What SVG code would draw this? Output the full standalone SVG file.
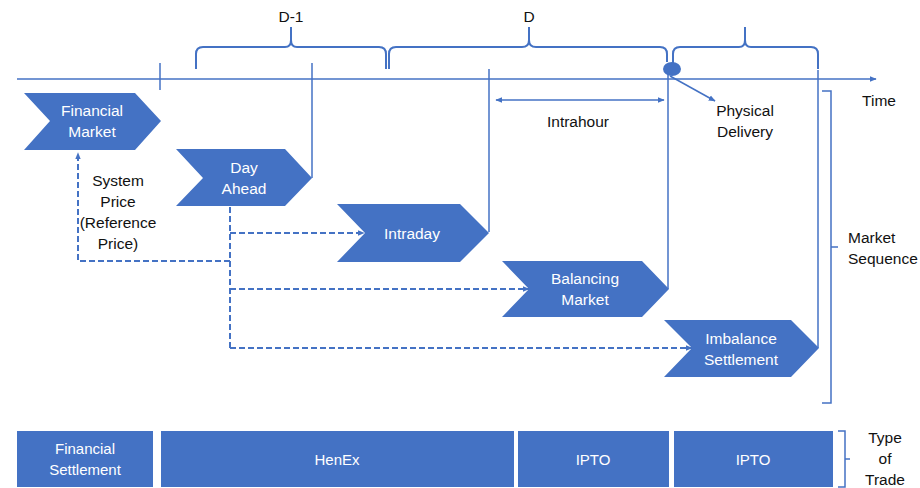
<svg xmlns="http://www.w3.org/2000/svg" width="920" height="488" viewBox="0 0 920 488">
<defs>
<marker id="ah" viewBox="0 0 10 10" refX="9" refY="5" markerWidth="7" markerHeight="7" orient="auto-start-reverse" markerUnits="userSpaceOnUse"><path d="M0,1 L10,5 L0,9 Z" fill="#4472C4"/></marker>
<style>
.ln{stroke:#4472C4;stroke-width:1.5;fill:none}
.ds{stroke:#4472C4;stroke-width:2;fill:none;stroke-dasharray:6,3}
.sh{fill:#4472C4}
.wt{font-family:"Liberation Sans",Arial,sans-serif;font-size:15.5px;fill:#ffffff;text-anchor:middle}
.bt{font-family:"Liberation Sans",Arial,sans-serif;font-size:15.5px;fill:#111111;text-anchor:middle}
.bx{font-family:"Liberation Sans",Arial,sans-serif;font-size:15px;fill:#ffffff;text-anchor:middle}
</style>
</defs>
<rect width="920" height="488" fill="#ffffff"/>

<g id="connectors">
<line class="ln" x1="17" y1="79" x2="876" y2="79" marker-end="url(#ah)"/>
<line class="ln" x1="160" y1="63" x2="160" y2="90"/>
<line class="ln" x1="312" y1="63" x2="312" y2="178"/>
<line class="ln" x1="489" y1="69" x2="489" y2="232"/>
<line class="ln" x1="668" y1="72" x2="668" y2="289"/>
<line class="ln" x1="818" y1="70" x2="818" y2="348"/>
<path class="ln" d="M196,69 V54 Q196,47 203,47 H285 Q291,47 291,40 V27 V40 Q291,47 297,47 H379 Q386,47 386,54 V69" style="stroke-width:2"/>
<path class="ln" d="M389,69 V54 Q389,47 396,47 H522 Q529,47 529,40 V27 V40 Q529,47 536,47 H660 Q667,47 667,54 V62" style="stroke-width:2"/>
<path class="ln" d="M673,69 V54 Q673,47 680,47 H739 Q745,47 745,40 V27 V40 Q745,47 751,47 H811 Q818,47 818,54 V69" style="stroke-width:2"/>
<line class="ln" x1="496" y1="100" x2="664" y2="100" marker-start="url(#ah)" marker-end="url(#ah)"/>
<line class="ln" x1="670" y1="76" x2="715" y2="101" marker-end="url(#ah)"/>
<path class="ln" d="M822,91 H831 V403 H822 M831,247 H838"/>
<path class="ln" d="M838,431 H845 V487 H838 M845,459 H850"/>
<path class="ds" d="M230,207 V348"/>
<path class="ds" d="M230,261 H78 V153" marker-end="url(#ah)"/>
<path class="ds" d="M230,233 H364" marker-end="url(#ah)"/>
<path class="ds" d="M230,289 H529" marker-end="url(#ah)"/>
<path class="ds" d="M230,348 H692" marker-end="url(#ah)"/>
</g>

<g id="dot"><ellipse class="sh" cx="672" cy="69" rx="9" ry="7"/></g>

<g id="financial-market">
<polygon class="sh" points="24,93 135,93 161,121 135,150 24,150 50,121"/>
<text class="wt" x="92" y="116">Financial</text>
<text class="wt" x="92" y="137">Market</text>
</g>
<g id="day-ahead">
<polygon class="sh" points="176,149 285,149 312,178 285,206 176,206 203,178"/>
<text class="wt" x="244" y="173">Day</text>
<text class="wt" x="244" y="194">Ahead</text>
</g>
<g id="intraday">
<polygon class="sh" points="337,204 460,204 489,233 460,262 337,262 365,233"/>
<text class="wt" x="412" y="239">Intraday</text>
</g>
<g id="balancing-market">
<polygon class="sh" points="502,261 642,261 669,289 642,317 502,317 529,289"/>
<text class="wt" x="585" y="284">Balancing</text>
<text class="wt" x="585" y="305">Market</text>
</g>
<g id="imbalance-settlement">
<polygon class="sh" points="664,320 791,320 819,348 791,377 664,377 692,348"/>
<text class="wt" x="741" y="344">Imbalance</text>
<text class="wt" x="741" y="365">Settlement</text>
</g>

<g id="labels">
<text class="bt" x="291" y="22">D-1</text>
<text class="bt" x="529" y="22">D</text>
<text class="bt" x="578" y="127">Intrahour</text>
<text class="bt" x="745" y="116">Physical</text>
<text class="bt" x="745" y="137">Delivery</text>
<text class="bt" x="879" y="106">Time</text>
<text class="bt" x="118" y="186">System</text>
<text class="bt" x="118" y="207">Price</text>
<text class="bt" x="118" y="228">(Reference</text>
<text class="bt" x="118" y="249">Price)</text>
<text class="bt" x="848" y="243" style="text-anchor:start">Market</text>
<text class="bt" x="848" y="264" style="text-anchor:start">Sequence</text>
<text class="bt" x="885" y="443">Type</text>
<text class="bt" x="885" y="464">of</text>
<text class="bt" x="885" y="485">Trade</text>
</g>

<g id="financial-settlement">
<rect class="sh" x="17" y="431" width="136" height="56"/>
<text class="bx" x="85" y="454">Financial</text>
<text class="bx" x="85" y="475">Settlement</text>
</g>
<g id="henex">
<rect class="sh" x="161" y="431" width="353" height="56"/>
<text class="bx" x="337" y="465">HenEx</text>
</g>
<g id="ipto-1">
<rect class="sh" x="518" y="431" width="151" height="56"/>
<text class="bx" x="593" y="465">IPTO</text>
</g>
<g id="ipto-2">
<rect class="sh" x="674" y="431" width="159" height="56"/>
<text class="bx" x="753" y="465">IPTO</text>
</g>
</svg>
